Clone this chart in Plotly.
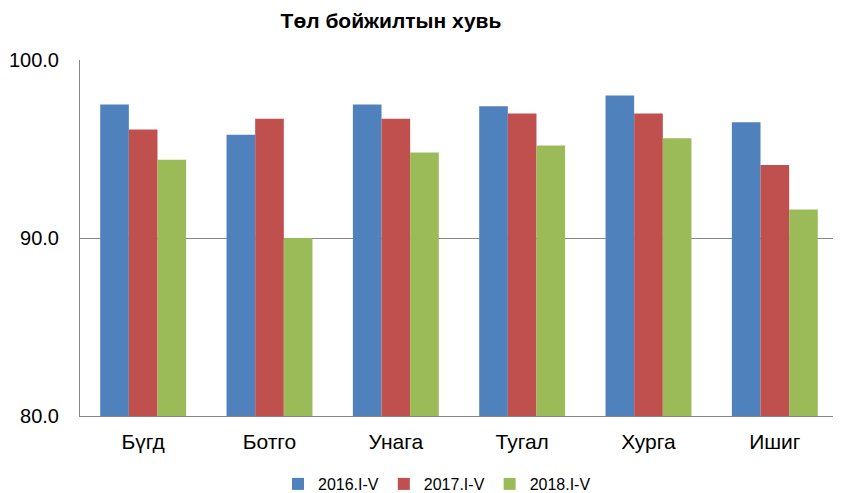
import plotly.graph_objects as go

categories = ["Бүгд", "Ботго", "Унага", "Тугал", "Хурга", "Ишиг"]
series_names = ["2016.I-V", "2017.I-V", "2018.I-V"]
v2016 = [97.5, 95.8, 97.5, 97.4, 98.0, 96.5]
v2017 = [96.1, 96.7, 96.7, 97.0, 97.0, 94.1]
v2018 = [94.4, 90.0, 94.8, 95.2, 95.6, 91.6]
colors = ["#4F81BD", "#C0504D", "#9BBB59"]
ytick_vals = [80, 90, 100]

# page body has an 8px margin, so the figure is drawn 8px right/down
W, H = 833, 485

fig = go.Figure()
for name, vals, c in zip(series_names, [v2016, v2017, v2018], colors):
    fig.add_trace(go.Bar(x=categories, y=vals, name=name, marker_color=c,
                         marker_line_width=0))

fig.update_layout(
    width=W, height=H,
    margin=dict(l=72, r=3, t=52, b=77, autoexpand=False),
    paper_bgcolor="white", plot_bgcolor="white",
    font=dict(family="Liberation Sans, Arial", color="#000000"),
    title=dict(text="<b>Төл бойжилтын хувь</b>", x=383/W, xanchor="center",
               y=1-13/H, yanchor="middle", font=dict(size=21)),
    barmode="group", bargap=0.32, bargroupgap=0,
    legend=dict(orientation="h", x=429/W, xref="container", xanchor="center",
                y=1-476/H, yref="container", yanchor="middle",
                font=dict(size=16), traceorder="normal", itemwidth=30),
    showlegend=True,
)
fig.update_xaxes(showline=True, linecolor="#868686", linewidth=1, ticks="",
                 tickfont=dict(size=21), showgrid=False, ticklabelstandoff=7)
fig.update_yaxes(range=[80, 100], tickvals=ytick_vals, tickformat=".1f",
                 showgrid=True, gridcolor="#868686", gridwidth=1,
                 showline=True, linecolor="#868686", linewidth=1,
                 tickfont=dict(size=20), ticks="", zeroline=False,
                 ticklabelstandoff=16)
fig.write_html("out.html")
